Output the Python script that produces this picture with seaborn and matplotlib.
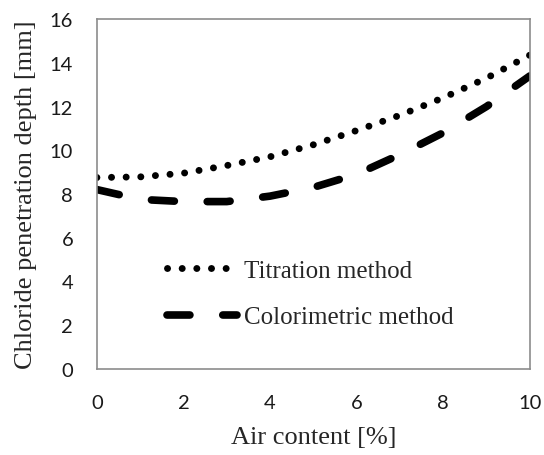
import numpy as np
import pandas as pd
import matplotlib
matplotlib.use('Agg')
import matplotlib.pyplot as plt
import seaborn as sns

# values
air = [0, 1, 2, 3, 4, 5, 6, 7, 8, 9, 10]
titration = [8.75, 8.78, 8.95, 9.3, 9.7, 10.25, 10.9, 11.6, 12.4, 13.3, 14.35]
colorimetric = [8.2, 7.75, 7.65, 7.65, 7.9, 8.3, 8.9, 9.8, 10.8, 12.0, 13.4]

sns.set_style("white")
plt.rcParams['font.family'] = ['Liberation Serif', 'DejaVu Serif']

fig = plt.figure(figsize=(5.44, 4.56), dpi=100)
ax = fig.add_axes([0.178, 0.189, 0.796, 0.767])

sns.lineplot(x=air, y=titration, ax=ax, color='black', linewidth=5,
             linestyle=(0, (0.01, 2.1)), dash_capstyle='round', label='Titration method')
sns.lineplot(x=air, y=colorimetric, ax=ax, color='black', linewidth=5.5,
             linestyle=(0, (3, 4.3)), dash_capstyle='round', label='Colorimetric method')

ax.set_xlim(0, 10)
ax.set_ylim(0, 16)
ax.set_xticks(range(0, 11, 2))
ax.set_yticks(range(0, 17, 2))
for lab in ax.get_xticklabels() + ax.get_yticklabels():
    lab.set_family('Lato')
    lab.set_fontsize(14.5)
    lab.set_color('#1a1a1a')
ax.tick_params(axis='both', direction='out', length=6, width=1, color='#8c8c8c')
ax.tick_params(axis='y', pad=11)
ax.tick_params(axis='x', pad=12)
for s in ax.spines.values():
    s.set_color('#8c8c8c')
    s.set_linewidth(1.2)

ax.set_xlabel('Air content [%]', fontsize=19, labelpad=11)
ax.set_ylabel('Chloride penetration depth [mm]', fontsize=19, labelpad=9)

ax.legend(loc='center left', bbox_to_anchor=(0.111, 0.214), frameon=False,
          fontsize=18, handlelength=2.8, handletextpad=0.25, labelspacing=0.95)

fig.savefig('out.png', dpi=100)
